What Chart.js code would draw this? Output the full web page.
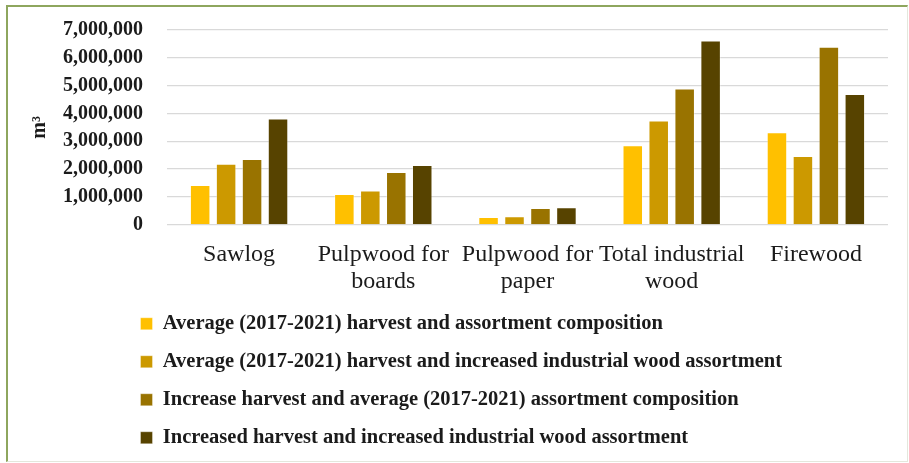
<!DOCTYPE html>
<html>
<head>
<meta charset="utf-8">
<script src="https://cdn.jsdelivr.net/npm/chart.js@4"></script>
<style>
  html, body { margin: 0; padding: 0; background: #fff; }
  #wrap { position: relative; width: 909px; height: 463px; }
  #frame {
    position: absolute; left: 6px; top: 5px; right: 1px; bottom: 1px;
    border-top: 2px solid #8ea65e; border-left: 2px solid #8ea65e;
    border-right: 1px solid #e4e7dc; border-bottom: 1px solid #e4e7dc;
    pointer-events: none;
  }
  canvas { position: absolute; left: 0; top: 0; }
</style>
</head>
<body>
<div id="wrap">
  <canvas id="chart" width="909" height="463"></canvas>
  <div id="frame"></div>
</div>
<script>
const categories = [
  "Sawlog",
  ["Pulpwood for", "boards"],
  ["Pulpwood for", "paper"],
  ["Total industrial", "wood"],
  "Firewood",
];
const seriesNames = [
  "Average (2017-2021) harvest and assortment composition",
  "Average (2017-2021) harvest and increased industrial wood assortment",
  "Increase harvest and average (2017-2021) assortment composition",
  "Increased harvest and increased industrial wood assortment",
];
const avgHarvestAvgMix = [1430000, 1110000, 280000, 2860000, 3330000];
const avgHarvestMoreIndustrial = [2190000, 1230000, 310000, 3750000, 2470000];
const moreHarvestAvgMix = [2360000, 1900000, 600000, 4900000, 6400000];
const moreHarvestMoreIndustrial = [3820000, 2150000, 630000, 6620000, 4700000];
const yTicks = [0, 1000000, 2000000, 3000000, 4000000, 5000000, 6000000, 7000000];
const colors = ["#ffc000", "#cc9900", "#997300", "#574300"];

const seriesValues = [avgHarvestAvgMix, avgHarvestMoreIndustrial, moreHarvestAvgMix, moreHarvestMoreIndustrial];

Chart.defaults.font.family = "'Liberation Serif', 'Times New Roman', serif";
Chart.defaults.color = "#1b1b1b";

// move the legend rows so they start under the axis labels
const legendIndent = {
  id: "legendIndent",
  afterLayout(chart, args, opts) {
    const lg = chart.legend;
    const dx = opts.left - lg.left;
    lg.left += dx;
    lg.right += dx;
    lg.top += opts.top || 0;
    lg.bottom += opts.top || 0;
  },
};

new Chart(document.getElementById("chart"), {
  type: "bar",
  data: {
    labels: categories,
    datasets: seriesValues.map((values, i) => ({
      label: seriesNames[i],
      data: values,
      backgroundColor: colors[i],
      borderColor: "rgba(255,255,255,0.35)",
      borderWidth: 1,
      categoryPercentage: 0.72,
      barPercentage: 0.79,
    })),
  },
  options: {
    responsive: false,
    animation: false,
    layout: { padding: { top: 30, right: 21, left: 10, bottom: -3 } },
    scales: {
      x: {
        grid: { display: false },
        border: { display: false },
        ticks: {
          padding: 8,
          maxRotation: 0,
          autoSkip: false,
          font: { size: 24, lineHeight: 1.15 },
        },
      },
      y: {
        min: 0,
        max: 7000000,
        afterBuildTicks: (axis) => {
          axis.ticks = yTicks.map((v) => ({ value: v }));
        },
        afterFit: (axis) => {
          // fixed axis width; top edge comes from layout padding only
          axis.width = 157;
          axis.paddingTop = 0;
        },
        grid: { color: "#d9d9d9", lineWidth: 1.3, drawTicks: false },
        border: { display: false },
        ticks: {
          padding: 24,
          autoSkip: false,
          font: { size: 20, weight: "bold" },
          callback: (v) => Number(v).toLocaleString("en-US"),
        },
        title: {
          display: true,
          text: "m³",
          font: { size: 20, weight: "bold" },
          padding: { top: 18, bottom: 11 },
        },
      },
    },
    plugins: {
      tooltip: { enabled: false },
      legend: {
        position: "bottom",
        align: "start",
        labels: {
          boxWidth: 12,
          boxHeight: 12,
          padding: 17.5,
          font: { size: 20.5, weight: "bold" },
          color: "#1b1b1b",
        },
      },
      legendIndent: { left: 123, top: -8 },
    },
  },
  plugins: [legendIndent],
});
</script>
</body>
</html>
